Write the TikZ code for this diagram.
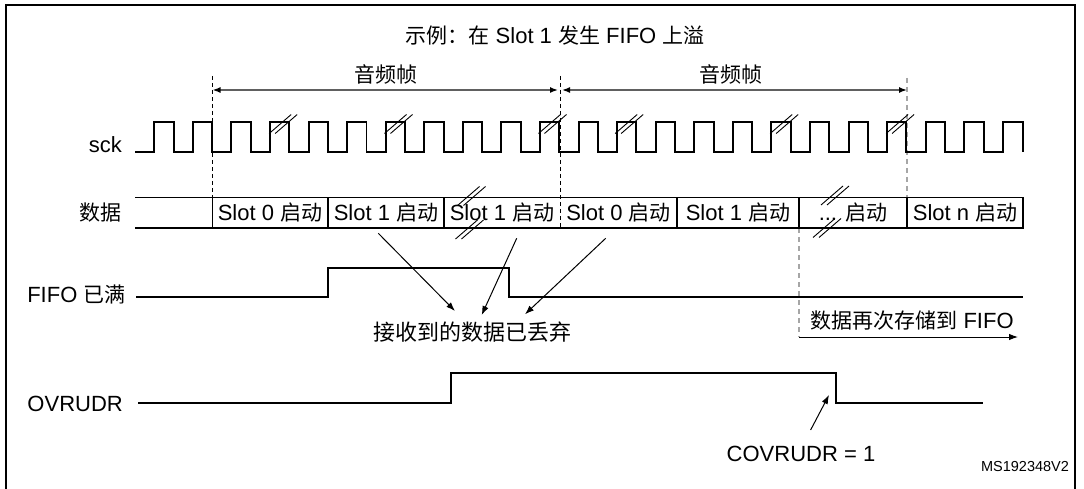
\documentclass[tikz,border=0pt]{standalone}
\usepackage{fontspec}
\setmainfont{Liberation Sans}
\newfontfamily\cjk{Noto Sans CJK SC}
\usetikzlibrary{arrows.meta}
\newcommand\zh[1]{{\cjk\fontsize{21}{25}\selectfont #1}}
\newcommand\slashpair[2]{%
  \draw[slashln] (#1-14,#2+9.5) -- (#1+8,#2-9.5);
  \draw[slashln] (#1-8,#2+9.5) -- (#1+14,#2-9.5);}
\begin{document}
\begin{tikzpicture}[x=1pt,y=-1pt,
  wave/.style={line width=1.9pt, line join=miter},
  boxln/.style={line width=1.8pt},
  thinln/.style={line width=1pt},
  slashln/.style={line width=0.9pt},
  dsh/.style={line width=1pt, dash pattern=on 4pt off 3pt},
  gdsh/.style={line width=1.6pt, gray!70, dash pattern=on 5pt off 4pt},
  tip/.style={-{Latex[length=9pt,width=6.5pt]}},
  lbl/.style={font=\fontsize{22}{26}\selectfont, inner sep=0pt},
  ]
\useasboundingbox (0,0) rectangle (1084,489);
\fill[white] (0,0) rectangle (1084,489);
% frame
\draw[line width=2.5pt] (6,495) -- (6,5) -- (1075,5) -- (1075,495);
% title
\node[lbl] (title) at (555,36) {\zh{示例：在} Slot 1 \zh{发生} FIFO \zh{上溢}};
% frame labels and arrows
\node[lbl] (fr1) at (386,74) {\zh{音频帧}};
\node[lbl] (fr2) at (731,74) {\zh{音频帧}};
\coordinate (d1) at (212.5,90);
\coordinate (d2) at (560,90);
\coordinate (d3) at (907,90);
\draw[dsh] (212.5,76) -- (212.5,197.5);
\draw[dsh] (560,76) -- (560,228.3);
\draw[gdsh] (907,78) -- (907,197.5);
\draw[gdsh] (799,228.3) -- (799,337);
\draw[line width=1.5pt, gray!75!black, {Latex[length=8pt,width=6pt,color=black]}-{Latex[length=8pt,width=6pt,color=black]}] (d1) -- ([xshift=-2pt]d2);
\draw[line width=1.5pt, gray!75!black, {Latex[length=8pt,width=6pt,color=black]}-{Latex[length=8pt,width=6pt,color=black]}] ([xshift=2pt]d2) -- (d3);
% sck
\node[lbl, anchor=base east] (sck) at (122,152.5) {sck};
\draw[wave] (135,152) \foreach \k in {0,...,21} { -- ({154.3+38.57*\k},152) -- ({154.3+38.57*\k},122.3) -- ({173.6+38.57*\k},122.3) -- ({173.6+38.57*\k},152) } -- (1002.8,152) -- (1002.8,122.3) -- (1023.3,122.3) -- (1023.3,152);
\foreach \r in {270.7,386,540,616.7,771.7,887.6} {\slashpair{\r+12.5}{124}}
% data row
\node[lbl, anchor=east] (data) at (122,213) {\zh{数据}};
\draw[boxln] (135,197.5) -- (1023,197.5) -- (1023,228.3) -- (135,228.3);
\foreach \x in {212.5,328,444,677,799,907} {\draw[boxln] (\x,197.5) -- (\x,228.3);}
\node[lbl] (c1) at (270,213) {Slot 0 \zh{启动}};
\node[lbl] (c2) at (386,213) {Slot 1 \zh{启动}};
\node[lbl] (c3) at (502,213) {Slot 1 \zh{启动}};
\node[lbl] (c4) at (618.5,213) {Slot 0 \zh{启动}};
\node[lbl] (c5) at (738,213) {Slot 1 \zh{启动}};
\node[lbl] (c6) at (853,213) {... \zh{启动}};
\node[lbl] (c7) at (965,213) {Slot n \zh{启动}};
\slashpair{471.5}{196}
\slashpair{469.5}{229.5}
\slashpair{835}{195.5}
\slashpair{827}{228}
% FIFO full
\node[lbl, anchor=east] (fifo) at (125.7,294) {FIFO \zh{已满}};
\draw[wave] (136,297.3) -| (328.3,267.7) -| (509.3,297.3) -- (1023,297.3);
\node[lbl] (drop) at (472,332.5) {{\cjk\fontsize{22}{26}\selectfont 接收到的数据已丢弃}};
\coordinate (a1s) at (378.3,233.3); \coordinate (a1e) at (455,311);
\coordinate (a2s) at (516.7,238.3); \coordinate (a2e) at (481.7,315);
\coordinate (a3s) at (605.7,238.3); \coordinate (a3e) at (525,314.3);
\draw[thinln, tip] (a1s) -- (a1e);
\draw[thinln, tip] (a2s) -- (a2e);
\draw[thinln, tip] (a3s) -- (a3e);
\node[lbl] (again) at (912,321) {\zh{数据再次存储到} FIFO};
\coordinate (ag1) at (799,337); \coordinate (ag2) at (1018,337);
\draw[thinln, tip] (ag1) -- (ag2);
% OVRUDR
\node[lbl, anchor=east] (ovr) at (123,404) {OVRUDR};
\draw[wave] (138,403.3) -| (451.3,372.7) -| (836.2,403.3) -- (982.7,403.3);
\coordinate (cv1) at (810.6,430); \coordinate (cv2) at (829,395);
\draw[thinln, tip] (cv1) -- (cv2);
\node[lbl] (cov) at (801,454) {COVRUDR = 1};
\node[font=\fontsize{14.5}{17}\selectfont, inner sep=0pt] (ms) at (1025,467) {MS192348V2};
\end{tikzpicture}
\end{document}
